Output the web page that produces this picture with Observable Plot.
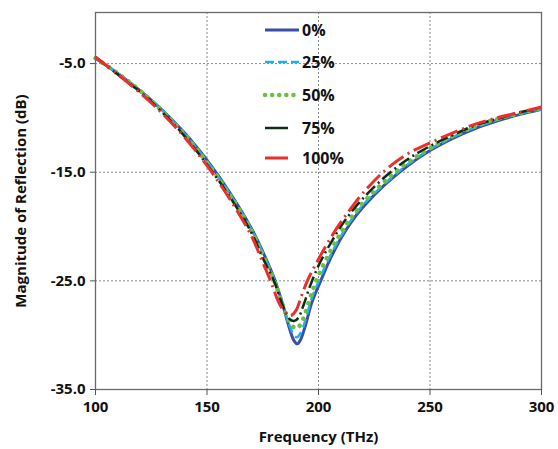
<!DOCTYPE html>
<html><head><meta charset="utf-8">
<script src="https://cdn.jsdelivr.net/npm/d3@7"></script>
<script src="https://cdn.jsdelivr.net/npm/@observablehq/plot@0.6"></script>
<style>
body{margin:0;background:#fff;font-family:"Open Sans",sans-serif}
#c{position:relative;width:558px;height:449px}
#legend{position:absolute;left:0;top:0}
</style>
</head><body><div id="c"></div>
<script>
// Series data
const seriesNames = ["0%", "25%", "50%", "75%", "100%"];
const f0 = [100,110,120,130,140,150,160,170,175,180,184,187,189,190.5,192,194,197,201,205,210,215,220,230,240,250,260,270,280,290,300];
const v0 = [-4.5,-5.9,-7.5,-9.3,-11.4,-13.9,-16.8,-20.2,-22.3,-24.7,-27.2,-29.4,-30.5,-30.8,-30.4,-29.2,-27.0,-25.0,-23.1,-21.1,-19.5,-18.2,-16.1,-14.4,-13.0,-11.9,-11.0,-10.3,-9.7,-9.2];
const f25 = [100,110,120,130,140,150,160,170,175,180,184,187,189,190.3,192,194,197,201,205,210,215,220,230,240,250,260,270,280,290,300];
const v25 = [-4.5,-5.9,-7.5,-9.3,-11.5,-14.0,-16.9,-20.3,-22.4,-24.8,-27.2,-29.1,-30.0,-30.2,-29.8,-28.7,-26.6,-24.6,-22.8,-20.9,-19.3,-18.0,-16.0,-14.3,-12.9,-11.8,-10.9,-10.2,-9.6,-9.2];
const f50 = [100,110,120,130,140,150,160,170,175,180,184,187,189,190,192,194,197,200,205,210,215,220,230,240,250,260,270,280,290,300];
const v50 = [-4.5,-5.9,-7.5,-9.4,-11.5,-14.1,-17.0,-20.4,-22.6,-24.9,-27.2,-28.8,-29.3,-29.4,-29.0,-28.0,-26.1,-24.5,-22.4,-20.6,-19.1,-17.8,-15.8,-14.1,-12.8,-11.7,-10.8,-10.1,-9.6,-9.1];
const f75 = [100,110,120,130,140,150,160,170,175,180,184,187,189,191,193,196,200,205,210,215,220,230,240,250,260,270,280,290,300];
const v75 = [-4.4,-6.0,-7.6,-9.5,-11.7,-14.3,-17.2,-20.6,-22.9,-25.0,-27.3,-28.5,-28.7,-28.4,-27.4,-25.6,-23.6,-21.7,-20.0,-18.6,-17.4,-15.4,-13.8,-12.6,-11.6,-10.7,-10.1,-9.5,-9.1];
const f100 = [100,110,120,130,140,150,160,170,175,178.5,182,185,187.5,190,192,195,200,205,210,215,220,230,240,250,260,270,280,290,300];
const v100 = [-4.4,-6.0,-7.7,-9.6,-11.8,-14.4,-17.4,-20.9,-23.3,-25.0,-26.9,-27.9,-28.2,-27.7,-26.6,-25.0,-23.0,-21.2,-19.6,-18.2,-16.9,-14.8,-13.3,-12.3,-11.4,-10.6,-10.0,-9.5,-9.0];
const xTicks = [100,150,200,250,300];
const yTicks = [-35,-25,-15,-5];

const freqs = [f0,f25,f50,f75,f100];
const vals = [v0,v25,v50,v75,v100];
const styles = [
  {stroke:"#3b4fa8", strokeWidth:3, strokeDasharray:null, linecap:"butt"},
  {stroke:"#22aee6", strokeWidth:2.5, strokeDasharray:"9,5", linecap:"butt"},
  {stroke:"#6dbe45", strokeWidth:4.5, strokeDasharray:"0.1,8", linecap:"round"},
  {stroke:"#0c2e12", strokeWidth:2.5, strokeDasharray:"12,4,2,4", linecap:"butt"},
  {stroke:"#ee2d2d", strokeWidth:3, strokeDasharray:"18,5,2,5", linecap:"butt"}
];
const tables = seriesNames.map((s,i)=>freqs[i].map((f,j)=>({f, v: vals[i][j], s})));

const font = "'Open Sans', sans-serif";
const chart = Plot.plot({
  width: 558, height: 449,
  marginLeft: 95, marginRight: 17, marginTop: 12, marginBottom: 60,
  style: {fontFamily: font, background: "#fff", overflow: "visible"},
  x: {domain: [100, 300]},
  y: {domain: [-35, -0.3]},
  marks: [
    Plot.gridX([150,200,250], {stroke: "#8a8a8a", strokeOpacity: 1, strokeDasharray: "2,2"}),
    Plot.gridY([-25,-15,-5], {stroke: "#8a8a8a", strokeOpacity: 1, strokeDasharray: "2,2"}),
    ...tables.map((t,i)=>Plot.line(t, {x:"f", y:"v", curve:"catmull-rom",
      stroke: styles[i].stroke, strokeWidth: styles[i].strokeWidth,
      strokeDasharray: styles[i].strokeDasharray, strokeLinecap: styles[i].linecap})),
    Plot.frame({stroke: "#6a6a6a", strokeWidth: 1.3}),
    Plot.axisX(xTicks, {tickSize: 6, tickPadding: 6, fontSize: 15, fontWeight: "bold", stroke:"#555", fill:"#111",
      label: "Frequency (THz)", labelAnchor: "center", labelArrow: "none", labelOffset: 52}),
    Plot.axisY(yTicks, {tickSize: 5, tickPadding: 5, fontSize: 15, fontWeight: "bold", stroke:"#555", fill:"#111",
      tickFormat: d => d.toFixed(1),
      label: "Magnitude of Reflection (dB)", labelAnchor: "center", labelArrow: "none", labelOffset: 80})
  ]
});
chart.querySelectorAll("g[aria-label='x-axis label'] text, g[aria-label='y-axis label'] text").forEach(t=>{
  t.setAttribute("font-size", "15"); t.setAttribute("font-weight", "bold"); t.setAttribute("fill", "#111");
});
document.getElementById("c").appendChild(chart);

// legend overlay
const rowsY = [30, 62, 95, 128, 158];
const lens = [34, 34, 34, 23, 23];
const lg = d3.select("#c").append("svg").attr("id","legend").attr("width",558).attr("height",449);
seriesNames.forEach((s,i)=>{
  const st = styles[i];
  lg.append("line").attr("x1", 265).attr("x2", 265+lens[i]).attr("y1", rowsY[i]).attr("y2", rowsY[i])
    .attr("stroke", st.stroke).attr("stroke-width", st.strokeWidth)
    .attr("stroke-dasharray", i===2 ? "0.1,7" : (i===1 ? "9,4" : null))
    .attr("stroke-linecap", st.linecap);
  lg.append("text").attr("x", 302).attr("y", rowsY[i]).attr("dy","0.36em")
    .attr("font-family", font).attr("font-size", 16).attr("font-weight","bold").attr("fill","#111").text(s);
});
</script>
</body></html>
